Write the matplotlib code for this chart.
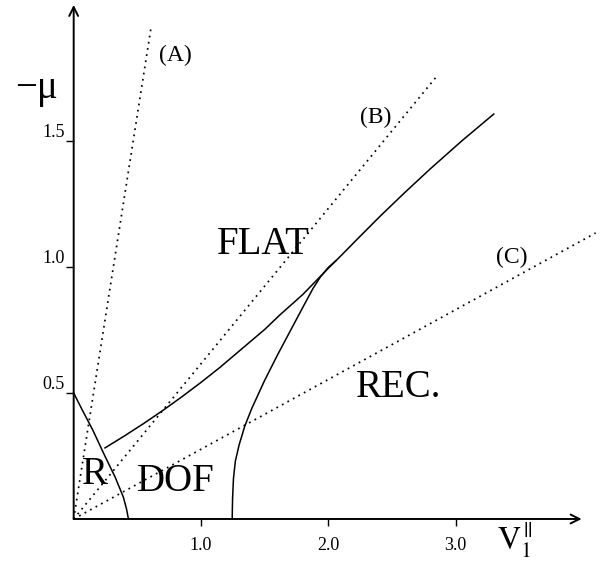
from __future__ import annotations

import matplotlib as mpl

mpl.use("Agg")
import matplotlib.pyplot as plt

# Reference rays through the origin, given by their far end points.
ray_labels = ["(A)", "(B)", "(C)"]
ray_end_x = [0.607, 2.86, 4.10]
ray_end_y = [1.948, 1.762, 1.135]
ray_label_x = [0.80, 2.37, 3.44]
ray_label_y = [1.84, 1.595, 1.036]

# Phase boundaries (solid curves).
r_edge_x = [0.0, 0.07, 0.15, 0.245, 0.325, 0.39, 0.415, 0.43]
r_edge_y = [0.5, 0.43, 0.353, 0.25, 0.167, 0.087, 0.04, 0.0]

flat_edge_x = [0.246, 0.40, 0.55, 0.704, 0.85, 1.0, 1.15, 1.36, 1.50, 1.62,
               1.80, 2.0, 2.1, 2.25, 2.41, 2.6, 2.8, 3.05, 3.30]
flat_edge_y = [0.282, 0.330, 0.379, 0.432, 0.485, 0.542, 0.602, 0.692, 0.752,
               0.810, 0.891, 0.995, 1.045, 1.122, 1.203, 1.295, 1.389, 1.501,
               1.607]

rec_edge_x = [1.245, 1.248, 1.255, 1.27, 1.30, 1.345, 1.40, 1.50, 1.60, 1.70,
              1.80, 1.88, 1.94, 2.0, 2.06]
rec_edge_y = [0.0, 0.08, 0.16, 0.23, 0.295, 0.37, 0.44, 0.55, 0.65, 0.745,
              0.84, 0.915, 0.962, 0.998, 1.025]

# Phase names and where they sit.
phase_names = ["FLAT", "REC.", "DOF", "R"]
phase_x = [1.487, 2.55, 0.805, 0.168]
phase_y = [1.091, 0.52, 0.147, 0.175]

x_ticks = [1.0, 2.0, 3.0]
x_tick_labels = ["1.0", "2.0", "3.0"]
y_ticks = [0.5, 1.0, 1.5]
y_tick_labels = ["0.5", "1.0", "1.5"]


def main() -> None:
    mpl.rcParams.update(
        {
            "font.family": ["Liberation Serif", "DejaVu Serif"],
            "mathtext.fontset": "stix",
        }
    )

    fig = plt.figure(figsize=(6.0, 5.7), dpi=100)
    ax = fig.add_axes([0.1228, 0.0895, 0.8742, 0.9063])
    ax.set_xlim(0, 4.12)
    ax.set_ylim(0, 2.05)
    for spine in ax.spines.values():
        spine.set_visible(False)

    # axes drawn as arrows
    arrow = dict(arrowstyle="->", color="black", lw=1.4, shrinkA=0, shrinkB=0,
                 mutation_scale=16)
    ax.annotate("", xy=(3.99, 0), xytext=(0, 0), arrowprops=arrow,
                annotation_clip=False)
    ax.annotate("", xy=(0, 2.04), xytext=(0, 0), arrowprops=arrow,
                annotation_clip=False)

    dotted = (0, (1.0, 2.6))
    for xe, ye in zip(ray_end_x, ray_end_y):
        ax.plot([0, xe], [0, ye], color="black", lw=1.25, linestyle=dotted,
                clip_on=False)
    for lab, lx, ly in zip(ray_labels, ray_label_x, ray_label_y):
        ax.text(lx, ly, lab, fontsize=17, ha="center", va="center")

    for xs, ys in ((r_edge_x, r_edge_y), (flat_edge_x, flat_edge_y),
                   (rec_edge_x, rec_edge_y)):
        ax.plot(xs, ys, color="black", lw=1.1, clip_on=False,
                solid_joinstyle="round")

    for name, px, py in zip(phase_names, phase_x, phase_y):
        ax.text(px, py, name, fontsize=28, ha="center", va="center")

    ax.set_xticks(x_ticks)
    ax.set_xticklabels(x_tick_labels)
    ax.set_yticks(y_ticks)
    ax.set_yticklabels(y_tick_labels, va="bottom")
    ax.tick_params(axis="x", direction="out", length=5, width=1.0, pad=8,
                   labelsize=13)
    ax.tick_params(axis="y", direction="out", length=6, width=1.0, pad=0.5,
                   labelsize=13)

    ax.text(-0.29, 1.71, "\u2212\u03bc", fontsize=28, ha="center",
            va="center", clip_on=False)
    ax.text(3.325, -0.123, r"$\mathrm{V}_1^{\,||}$", fontsize=23, ha="left",
            va="baseline", clip_on=False)

    fig.savefig("out.png", dpi=100)
    plt.close(fig)


if __name__ == "__main__":
    main()
